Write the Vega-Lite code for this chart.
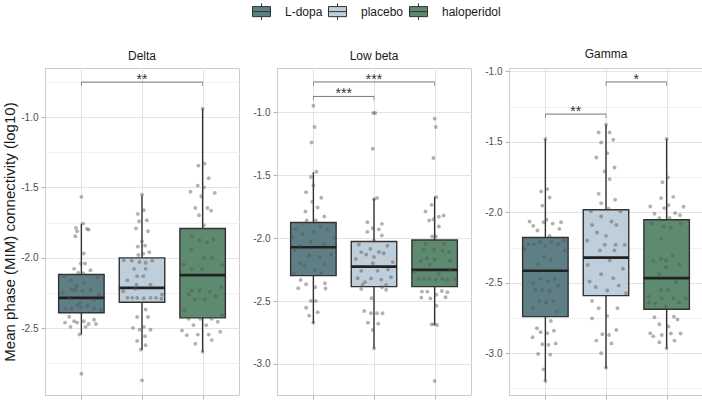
{
  "$schema": "https://vega.github.io/schema/vega-lite/v6.json",
  "padding": {"left": 2, "top": 2, "right": 0, "bottom": 0},
  "spacing": 12,
  "config": {
    "font": "Liberation Sans",
    "view": {"stroke": "#cccccc", "strokeWidth": 1},
    "title": {"fontSize": 12, "fontWeight": "normal", "color": "#1a1a1a", "offset": 5, "anchor": "middle"},
    "axisX": {"domain": false, "tickSize": 4, "tickColor": "#b3b3b3", "gridColor": "#e3e3e3", "labels": false},
    "axisY": {"domain": false, "tickSize": 4, "tickColor": "#b3b3b3", "labelFontSize": 10, "labelColor": "#4d4d4d", "labelPadding": 3, "labelOverlap": false, "titleFontSize": 15, "titleFontWeight": "normal", "titleColor": "#1a1a1a", "titlePadding": 3}
  },
  "datasets": {
    "boxes": [
      {"panel": "Delta", "drug": "L-dopa", "slot": 1, "lo": -2.544, "q1": -2.39, "med": -2.284, "q3": -2.118, "hi": -1.757},
      {"panel": "Delta", "drug": "placebo", "slot": 2, "lo": -2.655, "q1": -2.315, "med": -2.213, "q3": -2.0, "hi": -1.556},
      {"panel": "Delta", "drug": "haloperidol", "slot": 3, "lo": -2.667, "q1": -2.426, "med": -2.123, "q3": -1.792, "hi": -0.941},
      {"panel": "Low beta", "drug": "L-dopa", "slot": 1, "lo": -2.677, "q1": -2.298, "med": -2.072, "q3": -1.876, "hi": -1.475},
      {"panel": "Low beta", "drug": "placebo", "slot": 2, "lo": -2.876, "q1": -2.385, "med": -2.226, "q3": -2.027, "hi": -1.685},
      {"panel": "Low beta", "drug": "haloperidol", "slot": 3, "lo": -2.69, "q1": -2.385, "med": -2.252, "q3": -2.014, "hi": -1.669},
      {"panel": "Gamma", "drug": "L-dopa", "slot": 1, "lo": -3.197, "q1": -2.74, "med": -2.415, "q3": -2.179, "hi": -1.48},
      {"panel": "Gamma", "drug": "placebo", "slot": 2, "lo": -3.107, "q1": -2.591, "med": -2.321, "q3": -1.982, "hi": -1.379},
      {"panel": "Gamma", "drug": "haloperidol", "slot": 3, "lo": -2.965, "q1": -2.688, "med": -2.467, "q3": -2.053, "hi": -1.48}
    ],
    "sig": [
      {"panel": "Delta", "from": 1, "to": 3, "mid": 2, "y": -0.752, "label": "**"},
      {"panel": "Low beta", "from": 1, "to": 3, "mid": 2, "y": -0.758, "label": "***"},
      {"panel": "Low beta", "from": 1, "to": 2, "mid": 1.5, "y": -0.873, "label": "***"},
      {"panel": "Gamma", "from": 1, "to": 2, "mid": 1.5, "y": -1.303, "label": "**"},
      {"panel": "Gamma", "from": 2, "to": 3, "mid": 2.5, "y": -1.075, "label": "*"}
    ],
    "delta": [
      {"drug": "L-dopa", "v": -1.567, "slot": 1},
      {"drug": "L-dopa", "v": -1.757, "slot": 1.03},
      {"drug": "L-dopa", "v": -1.787, "slot": 0.91},
      {"drug": "L-dopa", "v": -1.811, "slot": 0.93},
      {"drug": "L-dopa", "v": -1.794, "slot": 1.09},
      {"drug": "L-dopa", "v": -1.847, "slot": 0.9},
      {"drug": "L-dopa", "v": -1.8, "slot": 1.12},
      {"drug": "L-dopa", "v": -1.969, "slot": 1.04},
      {"drug": "L-dopa", "v": -2.04, "slot": 0.99},
      {"drug": "L-dopa", "v": -2.04, "slot": 1.06},
      {"drug": "L-dopa", "v": -2.078, "slot": 0.88},
      {"drug": "L-dopa", "v": -2.088, "slot": 1.15},
      {"drug": "L-dopa", "v": -2.106, "slot": 0.95},
      {"drug": "L-dopa", "v": -2.11, "slot": 1.03},
      {"drug": "L-dopa", "v": -2.13, "slot": 0.72},
      {"drug": "L-dopa", "v": -2.14, "slot": 1.27},
      {"drug": "L-dopa", "v": -2.16, "slot": 0.82},
      {"drug": "L-dopa", "v": -2.18, "slot": 1.05},
      {"drug": "L-dopa", "v": -2.2, "slot": 0.92},
      {"drug": "L-dopa", "v": -2.225, "slot": 0.84},
      {"drug": "L-dopa", "v": -2.228, "slot": 0.9},
      {"drug": "L-dopa", "v": -2.235, "slot": 1.02},
      {"drug": "L-dopa", "v": -2.228, "slot": 1.15},
      {"drug": "L-dopa", "v": -2.248, "slot": 0.69},
      {"drug": "L-dopa", "v": -2.26, "slot": 1.29},
      {"drug": "L-dopa", "v": -2.29, "slot": 0.8},
      {"drug": "L-dopa", "v": -2.3, "slot": 1.2},
      {"drug": "L-dopa", "v": -2.32, "slot": 0.98},
      {"drug": "L-dopa", "v": -2.336, "slot": 0.93},
      {"drug": "L-dopa", "v": -2.34, "slot": 1.1},
      {"drug": "L-dopa", "v": -2.35, "slot": 0.99},
      {"drug": "L-dopa", "v": -2.36, "slot": 0.74},
      {"drug": "L-dopa", "v": -2.36, "slot": 0.84},
      {"drug": "L-dopa", "v": -2.36, "slot": 1.21},
      {"drug": "L-dopa", "v": -2.37, "slot": 1.32},
      {"drug": "L-dopa", "v": -2.418, "slot": 0.8},
      {"drug": "L-dopa", "v": -2.45, "slot": 0.88},
      {"drug": "L-dopa", "v": -2.46, "slot": 0.73},
      {"drug": "L-dopa", "v": -2.49, "slot": 0.82},
      {"drug": "L-dopa", "v": -2.46, "slot": 0.93},
      {"drug": "L-dopa", "v": -2.45, "slot": 1.04},
      {"drug": "L-dopa", "v": -2.47, "slot": 1.12},
      {"drug": "L-dopa", "v": -2.49, "slot": 1.07},
      {"drug": "L-dopa", "v": -2.44, "slot": 1.21},
      {"drug": "L-dopa", "v": -2.47, "slot": 1.24},
      {"drug": "L-dopa", "v": -2.544, "slot": 0.97},
      {"drug": "L-dopa", "v": -2.823, "slot": 1},
      {"drug": "placebo", "v": -1.551, "slot": 2},
      {"drug": "placebo", "v": -1.688, "slot": 1.93},
      {"drug": "placebo", "v": -1.662, "slot": 2.03},
      {"drug": "placebo", "v": -1.733, "slot": 2.08},
      {"drug": "placebo", "v": -1.74, "slot": 1.95},
      {"drug": "placebo", "v": -1.792, "slot": 1.9},
      {"drug": "placebo", "v": -1.811, "slot": 2.1},
      {"drug": "placebo", "v": -1.882, "slot": 2},
      {"drug": "placebo", "v": -1.913, "slot": 2.05},
      {"drug": "placebo", "v": -1.92, "slot": 1.93},
      {"drug": "placebo", "v": -1.96, "slot": 2.12},
      {"drug": "placebo", "v": -1.98, "slot": 1.94},
      {"drug": "placebo", "v": -1.97, "slot": 2.02},
      {"drug": "placebo", "v": -2.017, "slot": 1.7},
      {"drug": "placebo", "v": -2.02, "slot": 1.83},
      {"drug": "placebo", "v": -2.03, "slot": 1.96},
      {"drug": "placebo", "v": -2.035, "slot": 2.06},
      {"drug": "placebo", "v": -2.02, "slot": 2.17},
      {"drug": "placebo", "v": -2.078, "slot": 1.87},
      {"drug": "placebo", "v": -2.078, "slot": 2.06},
      {"drug": "placebo", "v": -2.13, "slot": 1.92},
      {"drug": "placebo", "v": -2.13, "slot": 2.02},
      {"drug": "placebo", "v": -2.16, "slot": 1.76},
      {"drug": "placebo", "v": -2.19, "slot": 1.91},
      {"drug": "placebo", "v": -2.19, "slot": 2.14},
      {"drug": "placebo", "v": -2.237, "slot": 1.69},
      {"drug": "placebo", "v": -2.22, "slot": 1.89},
      {"drug": "placebo", "v": -2.284, "slot": 1.76},
      {"drug": "placebo", "v": -2.284, "slot": 1.84},
      {"drug": "placebo", "v": -2.284, "slot": 1.92},
      {"drug": "placebo", "v": -2.287, "slot": 2.03},
      {"drug": "placebo", "v": -2.284, "slot": 2.14},
      {"drug": "placebo", "v": -2.284, "slot": 2.23},
      {"drug": "placebo", "v": -2.29, "slot": 2.32},
      {"drug": "placebo", "v": -2.26, "slot": 2.33},
      {"drug": "placebo", "v": -2.367, "slot": 2.06},
      {"drug": "placebo", "v": -2.42, "slot": 1.92},
      {"drug": "placebo", "v": -2.42, "slot": 2.1},
      {"drug": "placebo", "v": -2.497, "slot": 1.85},
      {"drug": "placebo", "v": -2.51, "slot": 1.96},
      {"drug": "placebo", "v": -2.49, "slot": 2.03},
      {"drug": "placebo", "v": -2.51, "slot": 2.14},
      {"drug": "placebo", "v": -2.556, "slot": 2.05},
      {"drug": "placebo", "v": -2.59, "slot": 1.92},
      {"drug": "placebo", "v": -2.62, "slot": 2.06},
      {"drug": "placebo", "v": -2.652, "slot": 1.98},
      {"drug": "placebo", "v": -2.87, "slot": 2},
      {"drug": "haloperidol", "v": -0.941, "slot": 3},
      {"drug": "haloperidol", "v": -1.345, "slot": 2.93},
      {"drug": "haloperidol", "v": -1.331, "slot": 3.03},
      {"drug": "haloperidol", "v": -1.435, "slot": 3.1},
      {"drug": "haloperidol", "v": -1.487, "slot": 2.92},
      {"drug": "haloperidol", "v": -1.5, "slot": 3.02},
      {"drug": "haloperidol", "v": -1.53, "slot": 2.8},
      {"drug": "haloperidol", "v": -1.539, "slot": 3.2},
      {"drug": "haloperidol", "v": -1.563, "slot": 2.98},
      {"drug": "haloperidol", "v": -1.646, "slot": 2.88},
      {"drug": "haloperidol", "v": -1.646, "slot": 3.08},
      {"drug": "haloperidol", "v": -1.665, "slot": 3.14},
      {"drug": "haloperidol", "v": -1.698, "slot": 2.94},
      {"drug": "haloperidol", "v": -1.769, "slot": 3.02},
      {"drug": "haloperidol", "v": -1.847, "slot": 2.82},
      {"drug": "haloperidol", "v": -1.875, "slot": 2.95},
      {"drug": "haloperidol", "v": -1.89, "slot": 3.07},
      {"drug": "haloperidol", "v": -1.87, "slot": 3.18},
      {"drug": "haloperidol", "v": -1.941, "slot": 2.81},
      {"drug": "haloperidol", "v": -2.0, "slot": 3.02},
      {"drug": "haloperidol", "v": -2.0, "slot": 3.15},
      {"drug": "haloperidol", "v": -2.047, "slot": 2.69},
      {"drug": "haloperidol", "v": -2.08, "slot": 2.82},
      {"drug": "haloperidol", "v": -2.08, "slot": 2.99},
      {"drug": "haloperidol", "v": -2.05, "slot": 3.32},
      {"drug": "haloperidol", "v": -2.232, "slot": 2.82},
      {"drug": "haloperidol", "v": -2.232, "slot": 2.95},
      {"drug": "haloperidol", "v": -2.24, "slot": 3.12},
      {"drug": "haloperidol", "v": -2.272, "slot": 3.21},
      {"drug": "haloperidol", "v": -2.26, "slot": 2.77},
      {"drug": "haloperidol", "v": -2.296, "slot": 2.87},
      {"drug": "haloperidol", "v": -2.296, "slot": 3.03},
      {"drug": "haloperidol", "v": -2.208, "slot": 3.31},
      {"drug": "haloperidol", "v": -2.374, "slot": 2.7},
      {"drug": "haloperidol", "v": -2.407, "slot": 3.32},
      {"drug": "haloperidol", "v": -2.433, "slot": 2.77},
      {"drug": "haloperidol", "v": -2.433, "slot": 2.96},
      {"drug": "haloperidol", "v": -2.433, "slot": 3.15},
      {"drug": "haloperidol", "v": -2.478, "slot": 2.85},
      {"drug": "haloperidol", "v": -2.478, "slot": 3.06},
      {"drug": "haloperidol", "v": -2.454, "slot": 3.25},
      {"drug": "haloperidol", "v": -2.516, "slot": 2.66},
      {"drug": "haloperidol", "v": -2.549, "slot": 2.74},
      {"drug": "haloperidol", "v": -2.545, "slot": 2.92},
      {"drug": "haloperidol", "v": -2.545, "slot": 3.1},
      {"drug": "haloperidol", "v": -2.525, "slot": 3.29},
      {"drug": "haloperidol", "v": -2.584, "slot": 3.15},
      {"drug": "haloperidol", "v": -2.61, "slot": 2.88},
      {"drug": "haloperidol", "v": -2.667, "slot": 3}
    ],
    "lowbeta": [
      {"drug": "L-dopa", "v": -0.947, "slot": 1},
      {"drug": "L-dopa", "v": -1.116, "slot": 1.02},
      {"drug": "L-dopa", "v": -1.239, "slot": 0.97},
      {"drug": "L-dopa", "v": -1.472, "slot": 1.05},
      {"drug": "L-dopa", "v": -1.514, "slot": 0.96},
      {"drug": "L-dopa", "v": -1.58, "slot": 1},
      {"drug": "L-dopa", "v": -1.634, "slot": 0.88},
      {"drug": "L-dopa", "v": -1.679, "slot": 1.13},
      {"drug": "L-dopa", "v": -1.711, "slot": 0.98},
      {"drug": "L-dopa", "v": -1.756, "slot": 1.07},
      {"drug": "L-dopa", "v": -1.788, "slot": 0.87},
      {"drug": "L-dopa", "v": -1.828, "slot": 1.18},
      {"drug": "L-dopa", "v": -1.86, "slot": 0.89},
      {"drug": "L-dopa", "v": -1.86, "slot": 1.04},
      {"drug": "L-dopa", "v": -1.928, "slot": 0.71},
      {"drug": "L-dopa", "v": -1.966, "slot": 0.82},
      {"drug": "L-dopa", "v": -1.95, "slot": 1},
      {"drug": "L-dopa", "v": -1.908, "slot": 1.12},
      {"drug": "L-dopa", "v": -1.93, "slot": 1.23},
      {"drug": "L-dopa", "v": -1.995, "slot": 0.65},
      {"drug": "L-dopa", "v": -1.995, "slot": 1.35},
      {"drug": "L-dopa", "v": -2.027, "slot": 0.96},
      {"drug": "L-dopa", "v": -2.05, "slot": 1.17},
      {"drug": "L-dopa", "v": -2.059, "slot": 0.77},
      {"drug": "L-dopa", "v": -2.093, "slot": 0.69},
      {"drug": "L-dopa", "v": -2.199, "slot": 0.78},
      {"drug": "L-dopa", "v": -2.22, "slot": 0.85},
      {"drug": "L-dopa", "v": -2.138, "slot": 0.93},
      {"drug": "L-dopa", "v": -2.15, "slot": 1.1},
      {"drug": "L-dopa", "v": -2.252, "slot": 1.02},
      {"drug": "L-dopa", "v": -2.207, "slot": 1.18},
      {"drug": "L-dopa", "v": -2.13, "slot": 1.29},
      {"drug": "L-dopa", "v": -2.279, "slot": 0.68},
      {"drug": "L-dopa", "v": -2.279, "slot": 1.13},
      {"drug": "L-dopa", "v": -2.332, "slot": 0.79},
      {"drug": "L-dopa", "v": -2.366, "slot": 0.88},
      {"drug": "L-dopa", "v": -2.398, "slot": 0.75},
      {"drug": "L-dopa", "v": -2.39, "slot": 1.03},
      {"drug": "L-dopa", "v": -2.358, "slot": 1.19},
      {"drug": "L-dopa", "v": -2.4, "slot": 1.2},
      {"drug": "L-dopa", "v": -2.499, "slot": 0.96},
      {"drug": "L-dopa", "v": -2.499, "slot": 1.04},
      {"drug": "L-dopa", "v": -2.553, "slot": 0.88},
      {"drug": "L-dopa", "v": -2.589, "slot": 1.07},
      {"drug": "L-dopa", "v": -2.616, "slot": 0.93},
      {"drug": "L-dopa", "v": -2.672, "slot": 1},
      {"drug": "placebo", "v": -1.005, "slot": 1.99},
      {"drug": "placebo", "v": -1.005, "slot": 2.02},
      {"drug": "placebo", "v": -1.289, "slot": 1.98},
      {"drug": "placebo", "v": -1.69, "slot": 2},
      {"drug": "placebo", "v": -1.68, "slot": 2.05},
      {"drug": "placebo", "v": -1.873, "slot": 1.89},
      {"drug": "placebo", "v": -1.886, "slot": 2.13},
      {"drug": "placebo", "v": -1.921, "slot": 1.98},
      {"drug": "placebo", "v": -1.93, "slot": 2.08},
      {"drug": "placebo", "v": -1.95, "slot": 1.89},
      {"drug": "placebo", "v": -1.979, "slot": 2.13},
      {"drug": "placebo", "v": -2.02, "slot": 2},
      {"drug": "placebo", "v": -2.165, "slot": 1.7},
      {"drug": "placebo", "v": -2.111, "slot": 1.79},
      {"drug": "placebo", "v": -2.13, "slot": 1.87},
      {"drug": "placebo", "v": -2.085, "slot": 1.94},
      {"drug": "placebo", "v": -2.11, "slot": 2.08},
      {"drug": "placebo", "v": -2.12, "slot": 2.16},
      {"drug": "placebo", "v": -2.15, "slot": 2},
      {"drug": "placebo", "v": -2.199, "slot": 1.98},
      {"drug": "placebo", "v": -2.19, "slot": 2.31},
      {"drug": "placebo", "v": -2.319, "slot": 1.73},
      {"drug": "placebo", "v": -2.35, "slot": 1.85},
      {"drug": "placebo", "v": -2.32, "slot": 1.95},
      {"drug": "placebo", "v": -2.33, "slot": 2.12},
      {"drug": "placebo", "v": -2.31, "slot": 2.28},
      {"drug": "placebo", "v": -2.26, "slot": 2.06},
      {"drug": "placebo", "v": -2.26, "slot": 1.79},
      {"drug": "placebo", "v": -2.25, "slot": 2.23},
      {"drug": "placebo", "v": -2.372, "slot": 2.2},
      {"drug": "placebo", "v": -2.372, "slot": 1.81},
      {"drug": "placebo", "v": -2.05, "slot": 1.75},
      {"drug": "placebo", "v": -2.06, "slot": 2.22},
      {"drug": "placebo", "v": -2.404, "slot": 1.79},
      {"drug": "placebo", "v": -2.39, "slot": 2.13},
      {"drug": "placebo", "v": -2.41, "slot": 2.2},
      {"drug": "placebo", "v": -2.478, "slot": 1.96},
      {"drug": "placebo", "v": -2.579, "slot": 1.84},
      {"drug": "placebo", "v": -2.597, "slot": 1.95},
      {"drug": "placebo", "v": -2.597, "slot": 2.05},
      {"drug": "placebo", "v": -2.597, "slot": 2.14},
      {"drug": "placebo", "v": -2.672, "slot": 1.9},
      {"drug": "placebo", "v": -2.68, "slot": 2.07},
      {"drug": "placebo", "v": -2.73, "slot": 1.98},
      {"drug": "placebo", "v": -2.876, "slot": 2},
      {"drug": "haloperidol", "v": -1.05, "slot": 3},
      {"drug": "haloperidol", "v": -1.116, "slot": 3.02},
      {"drug": "haloperidol", "v": -1.363, "slot": 2.98},
      {"drug": "haloperidol", "v": -1.674, "slot": 3.03},
      {"drug": "haloperidol", "v": -1.735, "slot": 2.95},
      {"drug": "haloperidol", "v": -1.788, "slot": 2.85},
      {"drug": "haloperidol", "v": -1.82, "slot": 3.15},
      {"drug": "haloperidol", "v": -1.83, "slot": 3.07},
      {"drug": "haloperidol", "v": -1.86, "slot": 2.91},
      {"drug": "haloperidol", "v": -1.85, "slot": 2.98},
      {"drug": "haloperidol", "v": -1.907, "slot": 3.07},
      {"drug": "haloperidol", "v": -1.987, "slot": 2.96},
      {"drug": "haloperidol", "v": -1.987, "slot": 3.02},
      {"drug": "haloperidol", "v": -2.045, "slot": 2.85},
      {"drug": "haloperidol", "v": -2.045, "slot": 3.15},
      {"drug": "haloperidol", "v": -2.093, "slot": 2.82},
      {"drug": "haloperidol", "v": -2.09, "slot": 2.99},
      {"drug": "haloperidol", "v": -2.1, "slot": 3.13},
      {"drug": "haloperidol", "v": -2.11, "slot": 3.24},
      {"drug": "haloperidol", "v": -2.181, "slot": 2.77},
      {"drug": "haloperidol", "v": -2.16, "slot": 2.87},
      {"drug": "haloperidol", "v": -2.17, "slot": 3},
      {"drug": "haloperidol", "v": -2.18, "slot": 3.25},
      {"drug": "haloperidol", "v": -2.21, "slot": 2.92},
      {"drug": "haloperidol", "v": -2.266, "slot": 2.67},
      {"drug": "haloperidol", "v": -2.26, "slot": 3.26},
      {"drug": "haloperidol", "v": -2.324, "slot": 2.74},
      {"drug": "haloperidol", "v": -2.324, "slot": 2.82},
      {"drug": "haloperidol", "v": -2.324, "slot": 2.91},
      {"drug": "haloperidol", "v": -2.33, "slot": 3.02},
      {"drug": "haloperidol", "v": -2.324, "slot": 3.13},
      {"drug": "haloperidol", "v": -2.33, "slot": 3.21},
      {"drug": "haloperidol", "v": -2.324, "slot": 3.34},
      {"drug": "haloperidol", "v": -2.28, "slot": 3.07},
      {"drug": "haloperidol", "v": -2.425, "slot": 2.79},
      {"drug": "haloperidol", "v": -2.425, "slot": 2.88},
      {"drug": "haloperidol", "v": -2.42, "slot": 3.12},
      {"drug": "haloperidol", "v": -2.43, "slot": 3.21},
      {"drug": "haloperidol", "v": -2.473, "slot": 2.78},
      {"drug": "haloperidol", "v": -2.48, "slot": 2.93},
      {"drug": "haloperidol", "v": -2.45, "slot": 3.03},
      {"drug": "haloperidol", "v": -2.47, "slot": 3.18},
      {"drug": "haloperidol", "v": -2.537, "slot": 3.03},
      {"drug": "haloperidol", "v": -2.685, "slot": 2.95},
      {"drug": "haloperidol", "v": -2.685, "slot": 2.99},
      {"drug": "haloperidol", "v": -2.69, "slot": 3.04},
      {"drug": "haloperidol", "v": -3.136, "slot": 3}
    ],
    "gamma": [
      {"drug": "L-dopa", "v": -1.48, "slot": 1},
      {"drug": "L-dopa", "v": -1.852, "slot": 0.93},
      {"drug": "L-dopa", "v": -1.835, "slot": 1.03},
      {"drug": "L-dopa", "v": -1.895, "slot": 1.07},
      {"drug": "L-dopa", "v": -1.952, "slot": 0.95},
      {"drug": "L-dopa", "v": -2.065, "slot": 0.74},
      {"drug": "L-dopa", "v": -2.096, "slot": 0.8},
      {"drug": "L-dopa", "v": -2.129, "slot": 0.87},
      {"drug": "L-dopa", "v": -2.053, "slot": 1.02},
      {"drug": "L-dopa", "v": -2.07, "slot": 0.97},
      {"drug": "L-dopa", "v": -2.08, "slot": 1.12},
      {"drug": "L-dopa", "v": -2.07, "slot": 1.26},
      {"drug": "L-dopa", "v": -2.117, "slot": 1.23},
      {"drug": "L-dopa", "v": -2.167, "slot": 1.07},
      {"drug": "L-dopa", "v": -2.226, "slot": 0.72},
      {"drug": "L-dopa", "v": -2.226, "slot": 0.81},
      {"drug": "L-dopa", "v": -2.21, "slot": 0.91},
      {"drug": "L-dopa", "v": -2.24, "slot": 1},
      {"drug": "L-dopa", "v": -2.21, "slot": 1.1},
      {"drug": "L-dopa", "v": -2.226, "slot": 1.21},
      {"drug": "L-dopa", "v": -2.2, "slot": 1.31},
      {"drug": "L-dopa", "v": -2.259, "slot": 0.66},
      {"drug": "L-dopa", "v": -2.314, "slot": 0.98},
      {"drug": "L-dopa", "v": -2.368, "slot": 0.88},
      {"drug": "L-dopa", "v": -2.34, "slot": 1.09},
      {"drug": "L-dopa", "v": -2.27, "slot": 1.32},
      {"drug": "L-dopa", "v": -2.503, "slot": 0.8},
      {"drug": "L-dopa", "v": -2.472, "slot": 0.92},
      {"drug": "L-dopa", "v": -2.49, "slot": 1.05},
      {"drug": "L-dopa", "v": -2.472, "slot": 1.16},
      {"drug": "L-dopa", "v": -2.52, "slot": 1.21},
      {"drug": "L-dopa", "v": -2.55, "slot": 0.83},
      {"drug": "L-dopa", "v": -2.55, "slot": 0.95},
      {"drug": "L-dopa", "v": -2.56, "slot": 1.07},
      {"drug": "L-dopa", "v": -2.629, "slot": 0.9},
      {"drug": "L-dopa", "v": -2.64, "slot": 1.01},
      {"drug": "L-dopa", "v": -2.629, "slot": 1.13},
      {"drug": "L-dopa", "v": -2.68, "slot": 0.79},
      {"drug": "L-dopa", "v": -2.705, "slot": 1.19},
      {"drug": "L-dopa", "v": -2.822, "slot": 0.86},
      {"drug": "L-dopa", "v": -2.85, "slot": 0.92},
      {"drug": "L-dopa", "v": -2.771, "slot": 1.09},
      {"drug": "L-dopa", "v": -2.858, "slot": 1.03},
      {"drug": "L-dopa", "v": -2.84, "slot": 1.14},
      {"drug": "L-dopa", "v": -2.886, "slot": 0.79},
      {"drug": "L-dopa", "v": -2.936, "slot": 0.95},
      {"drug": "L-dopa", "v": -2.94, "slot": 1.05},
      {"drug": "L-dopa", "v": -2.93, "slot": 1.17},
      {"drug": "L-dopa", "v": -3.005, "slot": 0.88},
      {"drug": "L-dopa", "v": -3.01, "slot": 1.08},
      {"drug": "L-dopa", "v": -3.114, "slot": 0.97},
      {"drug": "L-dopa", "v": -3.197, "slot": 1},
      {"drug": "placebo", "v": -1.379, "slot": 2},
      {"drug": "placebo", "v": -1.433, "slot": 1.88},
      {"drug": "placebo", "v": -1.433, "slot": 2.06},
      {"drug": "placebo", "v": -1.504, "slot": 1.92},
      {"drug": "placebo", "v": -1.485, "slot": 2.12},
      {"drug": "placebo", "v": -1.58, "slot": 2.02},
      {"drug": "placebo", "v": -1.611, "slot": 1.84},
      {"drug": "placebo", "v": -1.682, "slot": 2.14},
      {"drug": "placebo", "v": -1.71, "slot": 1.98},
      {"drug": "placebo", "v": -1.764, "slot": 2.06},
      {"drug": "placebo", "v": -1.869, "slot": 1.88},
      {"drug": "placebo", "v": -1.911, "slot": 2.15},
      {"drug": "placebo", "v": -1.935, "slot": 1.92},
      {"drug": "placebo", "v": -1.975, "slot": 2.04},
      {"drug": "placebo", "v": -1.992, "slot": 1.75},
      {"drug": "placebo", "v": -1.992, "slot": 2.24},
      {"drug": "placebo", "v": -2.03, "slot": 1.92},
      {"drug": "placebo", "v": -2.065, "slot": 2.09},
      {"drug": "placebo", "v": -2.09, "slot": 2.17},
      {"drug": "placebo", "v": -2.09, "slot": 1.77},
      {"drug": "placebo", "v": -2.143, "slot": 1.85},
      {"drug": "placebo", "v": -2.167, "slot": 2},
      {"drug": "placebo", "v": -2.2, "slot": 1.69},
      {"drug": "placebo", "v": -2.23, "slot": 2.31},
      {"drug": "placebo", "v": -2.23, "slot": 1.98},
      {"drug": "placebo", "v": -2.23, "slot": 2.16},
      {"drug": "placebo", "v": -2.373, "slot": 1.7},
      {"drug": "placebo", "v": -2.439, "slot": 1.92},
      {"drug": "placebo", "v": -2.467, "slot": 2.12},
      {"drug": "placebo", "v": -2.4, "slot": 2.28},
      {"drug": "placebo", "v": -2.491, "slot": 1.73},
      {"drug": "placebo", "v": -2.53, "slot": 1.83},
      {"drug": "placebo", "v": -2.555, "slot": 2.02},
      {"drug": "placebo", "v": -2.52, "slot": 2.21},
      {"drug": "placebo", "v": -2.574, "slot": 2.33},
      {"drug": "placebo", "v": -2.27, "slot": 1.9},
      {"drug": "placebo", "v": -2.27, "slot": 2.14},
      {"drug": "placebo", "v": -2.34, "slot": 2.06},
      {"drug": "placebo", "v": -2.629, "slot": 1.77},
      {"drug": "placebo", "v": -2.68, "slot": 1.88},
      {"drug": "placebo", "v": -2.68, "slot": 2.19},
      {"drug": "placebo", "v": -2.735, "slot": 2.02},
      {"drug": "placebo", "v": -2.752, "slot": 1.77},
      {"drug": "placebo", "v": -2.834, "slot": 2.17},
      {"drug": "placebo", "v": -2.865, "slot": 1.94},
      {"drug": "placebo", "v": -2.87, "slot": 2.05},
      {"drug": "placebo", "v": -2.91, "slot": 1.84},
      {"drug": "placebo", "v": -2.93, "slot": 2.09},
      {"drug": "placebo", "v": -3.0, "slot": 1.92},
      {"drug": "placebo", "v": -3.102, "slot": 2},
      {"drug": "haloperidol", "v": -1.48, "slot": 3},
      {"drug": "haloperidol", "v": -1.753, "slot": 3.02},
      {"drug": "haloperidol", "v": -1.786, "slot": 2.93},
      {"drug": "haloperidol", "v": -1.899, "slot": 2.91},
      {"drug": "haloperidol", "v": -1.89, "slot": 3.11},
      {"drug": "haloperidol", "v": -1.959, "slot": 2.73},
      {"drug": "haloperidol", "v": -1.97, "slot": 2.96},
      {"drug": "haloperidol", "v": -1.95, "slot": 3.03},
      {"drug": "haloperidol", "v": -1.96, "slot": 3.28},
      {"drug": "haloperidol", "v": -2.006, "slot": 3.14},
      {"drug": "haloperidol", "v": -2.01, "slot": 2.8},
      {"drug": "haloperidol", "v": -2.02, "slot": 3.22},
      {"drug": "haloperidol", "v": -2.041, "slot": 2.88},
      {"drug": "haloperidol", "v": -2.04, "slot": 3.05},
      {"drug": "haloperidol", "v": -2.077, "slot": 2.75},
      {"drug": "haloperidol", "v": -2.1, "slot": 2.95},
      {"drug": "haloperidol", "v": -2.11, "slot": 3.07},
      {"drug": "haloperidol", "v": -2.08, "slot": 3.23},
      {"drug": "haloperidol", "v": -2.188, "slot": 2.91},
      {"drug": "haloperidol", "v": -2.344, "slot": 2.78},
      {"drug": "haloperidol", "v": -2.33, "slot": 2.91},
      {"drug": "haloperidol", "v": -2.34, "slot": 2.99},
      {"drug": "haloperidol", "v": -2.307, "slot": 3.1},
      {"drug": "haloperidol", "v": -2.37, "slot": 3.21},
      {"drug": "haloperidol", "v": -2.39, "slot": 2.99},
      {"drug": "haloperidol", "v": -2.439, "slot": 2.88},
      {"drug": "haloperidol", "v": -2.496, "slot": 3.15},
      {"drug": "haloperidol", "v": -2.55, "slot": 2.91},
      {"drug": "haloperidol", "v": -2.55, "slot": 3.03},
      {"drug": "haloperidol", "v": -2.598, "slot": 2.7},
      {"drug": "haloperidol", "v": -2.61, "slot": 2.92},
      {"drug": "haloperidol", "v": -2.61, "slot": 3.11},
      {"drug": "haloperidol", "v": -2.64, "slot": 3.21},
      {"drug": "haloperidol", "v": -2.61, "slot": 3.31},
      {"drug": "haloperidol", "v": -2.64, "slot": 2.71},
      {"drug": "haloperidol", "v": -2.645, "slot": 2.81},
      {"drug": "haloperidol", "v": -2.67, "slot": 2.99},
      {"drug": "haloperidol", "v": -2.744, "slot": 2.8},
      {"drug": "haloperidol", "v": -2.74, "slot": 3.12},
      {"drug": "haloperidol", "v": -2.76, "slot": 3.18},
      {"drug": "haloperidol", "v": -2.794, "slot": 2.88},
      {"drug": "haloperidol", "v": -2.81, "slot": 3.03},
      {"drug": "haloperidol", "v": -2.858, "slot": 2.73},
      {"drug": "haloperidol", "v": -2.88, "slot": 2.78},
      {"drug": "haloperidol", "v": -2.87, "slot": 2.92},
      {"drug": "haloperidol", "v": -2.86, "slot": 3.07},
      {"drug": "haloperidol", "v": -2.86, "slot": 3.23},
      {"drug": "haloperidol", "v": -2.922, "slot": 2.88},
      {"drug": "haloperidol", "v": -2.91, "slot": 3.13},
      {"drug": "haloperidol", "v": -2.965, "slot": 3}
    ]
  },
  "hconcat": [
    {
      "width": 194, "height": 327,
      "title": "Delta",
      "layer": [
        {
          "data": {"name": "boxes"},
          "transform": [{"filter": "datum.panel === 'Delta'"}],
          "mark": {"type": "rule", "color": "#333333", "strokeWidth": 1.4},
          "encoding": {
            "x": {"field": "slot", "type": "quantitative", "title": null,
                  "scale": {"domain": [0.4, 3.6], "nice": false, "zero": false, "padding": 0},
                  "axis": {"values": [1, 2, 3]}},
            "y": {"field": "lo", "type": "quantitative", "title": "Mean phase (MIM) connectivity (log10)",
                  "scale": {"domain": [-2.974, -0.652], "nice": false, "zero": false},
                  "axis": {"values": [-2.75, -2.5, -2.25, -2, -1.75, -1.5, -1.25, -1, -0.75],
                           "labelExpr": "datum.value % 0.5 === 0 ? replace(format(datum.value, '.1f'), '\u2212', '-') : ''",
                           "gridColor": {"condition": {"test": "datum.value % 0.5 !== 0", "value": "#f0f0f0"}, "value": "#e3e3e3"},
                           "tickOpacity": {"condition": {"test": "datum.value % 0.5 !== 0", "value": 0}, "value": 1}}},
            "y2": {"field": "hi"}
          }
        },
        {
          "data": {"name": "boxes"},
          "transform": [{"filter": "datum.panel === 'Delta'"}],
          "mark": {"type": "bar", "width": 45.5, "stroke": "#333333", "strokeWidth": 1.4},
          "encoding": {
            "x": {"field": "slot", "type": "quantitative", "title": null},
            "y": {"field": "q1", "type": "quantitative", "title": "Mean phase (MIM) connectivity (log10)"},
            "y2": {"field": "q3"},
            "fill": {"field": "drug", "type": "nominal",
                     "scale": {"domain": ["L-dopa", "placebo", "haloperidol"], "range": ["#5f7f87", "#bfcedb", "#5e8a6f"]},
                     "legend": {"title": null, "orient": "none", "legendX": 207, "legendY": -66, "direction": "horizontal",
                                "symbolType": "M-1,-0.56H1V0.56H-1Z M-1,0H1 M0,-0.56V-0.92 M0,0.56V0.92",
                                "symbolSize": 324, "symbolStrokeColor": "#333333", "symbolStrokeWidth": 1,
                                "labelFontSize": 12, "labelColor": "#1a1a1a", "labelOffset": 14, "columnPadding": 3, "padding": 0}}
          }
        },
        {
          "data": {"name": "boxes"},
          "transform": [{"filter": "datum.panel === 'Delta'"}],
          "mark": {"type": "tick", "orient": "horizontal", "color": "#222222", "thickness": 2.6, "size": 46, "opacity": 1},
          "encoding": {
            "x": {"field": "slot", "type": "quantitative", "title": null},
            "y": {"field": "med", "type": "quantitative", "title": "Mean phase (MIM) connectivity (log10)"}
          }
        },
        {
          "data": {"name": "delta"},
          "mark": {"type": "circle", "size": 15, "color": "#555555", "opacity": 0.45},
          "encoding": {
            "x": {"field": "slot", "type": "quantitative", "title": null},
            "y": {"field": "v", "type": "quantitative", "title": "Mean phase (MIM) connectivity (log10)"}
          }
        },
        {
          "data": {"name": "sig"},
          "transform": [{"filter": "datum.panel === 'Delta'"}],
          "mark": {"type": "rule", "color": "#555555", "strokeWidth": 0.8},
          "encoding": {
            "x": {"field": "from", "type": "quantitative", "title": null},
            "x2": {"field": "to"},
            "y": {"field": "y", "type": "quantitative", "title": "Mean phase (MIM) connectivity (log10)"}
          }
        },
        {
          "data": {"name": "sig"},
          "transform": [{"filter": "datum.panel === 'Delta'"}],
          "mark": {"type": "tick", "orient": "vertical", "color": "#555555", "thickness": 0.8, "size": 4, "yOffset": 2},
          "encoding": {
            "x": {"field": "from", "type": "quantitative", "title": null},
            "y": {"field": "y", "type": "quantitative", "title": "Mean phase (MIM) connectivity (log10)"}
          }
        },
        {
          "data": {"name": "sig"},
          "transform": [{"filter": "datum.panel === 'Delta'"}],
          "mark": {"type": "tick", "orient": "vertical", "color": "#555555", "thickness": 0.8, "size": 4, "yOffset": 2},
          "encoding": {
            "x": {"field": "to", "type": "quantitative", "title": null},
            "y": {"field": "y", "type": "quantitative", "title": "Mean phase (MIM) connectivity (log10)"}
          }
        },
        {
          "data": {"name": "sig"},
          "transform": [{"filter": "datum.panel === 'Delta'"}],
          "mark": {"type": "text", "fontSize": 14, "color": "#333333", "baseline": "alphabetic", "dy": 2},
          "encoding": {
            "x": {"field": "mid", "type": "quantitative", "title": null},
            "y": {"field": "y", "type": "quantitative", "title": "Mean phase (MIM) connectivity (log10)"},
            "text": {"field": "label"}
          }
        }
      ]
    },
    {
      "width": 194, "height": 327,
      "title": "Low beta",
      "layer": [
        {
          "data": {"name": "boxes"},
          "transform": [{"filter": "datum.panel === 'Low beta'"}],
          "mark": {"type": "rule", "color": "#333333", "strokeWidth": 1.4},
          "encoding": {
            "x": {"field": "slot", "type": "quantitative", "title": null,
                  "scale": {"domain": [0.4, 3.6], "nice": false, "zero": false, "padding": 0},
                  "axis": {"values": [1, 2, 3]}},
            "y": {"field": "lo", "type": "quantitative", "title": null,
                  "scale": {"domain": [-3.247, -0.647], "nice": false, "zero": false},
                  "axis": {"values": [-3, -2.75, -2.5, -2.25, -2, -1.75, -1.5, -1.25, -1, -0.75],
                           "labelExpr": "datum.value % 0.5 === 0 ? replace(format(datum.value, '.1f'), '\u2212', '-') : ''",
                           "gridColor": {"condition": {"test": "datum.value % 0.5 !== 0", "value": "#f0f0f0"}, "value": "#e3e3e3"},
                           "tickOpacity": {"condition": {"test": "datum.value % 0.5 !== 0", "value": 0}, "value": 1}}},
            "y2": {"field": "hi"}
          }
        },
        {
          "data": {"name": "boxes"},
          "transform": [{"filter": "datum.panel === 'Low beta'"}],
          "mark": {"type": "bar", "width": 45.5, "stroke": "#333333", "strokeWidth": 1.4},
          "encoding": {
            "x": {"field": "slot", "type": "quantitative", "title": null},
            "y": {"field": "q1", "type": "quantitative", "title": null},
            "y2": {"field": "q3"},
            "fill": {"field": "drug", "type": "nominal"}
          }
        },
        {
          "data": {"name": "boxes"},
          "transform": [{"filter": "datum.panel === 'Low beta'"}],
          "mark": {"type": "tick", "orient": "horizontal", "color": "#222222", "thickness": 2.6, "size": 46, "opacity": 1},
          "encoding": {
            "x": {"field": "slot", "type": "quantitative", "title": null},
            "y": {"field": "med", "type": "quantitative", "title": null}
          }
        },
        {
          "data": {"name": "lowbeta"},
          "mark": {"type": "circle", "size": 15, "color": "#555555", "opacity": 0.45},
          "encoding": {
            "x": {"field": "slot", "type": "quantitative", "title": null},
            "y": {"field": "v", "type": "quantitative", "title": null}
          }
        },
        {
          "data": {"name": "sig"},
          "transform": [{"filter": "datum.panel === 'Low beta'"}],
          "mark": {"type": "rule", "color": "#555555", "strokeWidth": 0.8},
          "encoding": {
            "x": {"field": "from", "type": "quantitative", "title": null},
            "x2": {"field": "to"},
            "y": {"field": "y", "type": "quantitative", "title": null}
          }
        },
        {
          "data": {"name": "sig"},
          "transform": [{"filter": "datum.panel === 'Low beta'"}],
          "mark": {"type": "tick", "orient": "vertical", "color": "#555555", "thickness": 0.8, "size": 4, "yOffset": 2},
          "encoding": {
            "x": {"field": "from", "type": "quantitative", "title": null},
            "y": {"field": "y", "type": "quantitative", "title": null}
          }
        },
        {
          "data": {"name": "sig"},
          "transform": [{"filter": "datum.panel === 'Low beta'"}],
          "mark": {"type": "tick", "orient": "vertical", "color": "#555555", "thickness": 0.8, "size": 4, "yOffset": 2},
          "encoding": {
            "x": {"field": "to", "type": "quantitative", "title": null},
            "y": {"field": "y", "type": "quantitative", "title": null}
          }
        },
        {
          "data": {"name": "sig"},
          "transform": [{"filter": "datum.panel === 'Low beta'"}],
          "mark": {"type": "text", "fontSize": 14, "color": "#333333", "baseline": "alphabetic", "dy": 2},
          "encoding": {
            "x": {"field": "mid", "type": "quantitative", "title": null},
            "y": {"field": "y", "type": "quantitative", "title": null},
            "text": {"field": "label"}
          }
        }
      ]
    },
    {
      "width": 194, "height": 327,
      "title": "Gamma",
      "layer": [
        {
          "data": {"name": "boxes"},
          "transform": [{"filter": "datum.panel === 'Gamma'"}],
          "mark": {"type": "rule", "color": "#333333", "strokeWidth": 1.4},
          "encoding": {
            "x": {"field": "slot", "type": "quantitative", "title": null,
                  "scale": {"domain": [0.4, 3.6], "nice": false, "zero": false, "padding": 0},
                  "axis": {"values": [1, 2, 3]}},
            "y": {"field": "lo", "type": "quantitative", "title": null,
                  "scale": {"domain": [-3.296, -0.976], "nice": false, "zero": false},
                  "axis": {"orient": "left", "values": [-3, -2.75, -2.5, -2.25, -2, -1.75, -1.5, -1.25, -1],
                           "labelExpr": "datum.value % 0.5 === 0 ? replace(format(datum.value, '.1f'), '\u2212', '-') : ''",
                           "gridColor": {"condition": {"test": "datum.value % 0.5 !== 0", "value": "#f0f0f0"}, "value": "#e3e3e3"},
                           "tickOpacity": {"condition": {"test": "datum.value % 0.5 !== 0", "value": 0}, "value": 1}}},
            "y2": {"field": "hi"}
          }
        },
        {
          "data": {"values": [{}]},
          "mark": {"type": "rule", "color": "#f0f0f0", "strokeWidth": 1},
          "encoding": {
            "y": {"datum": -3.25, "type": "quantitative"}
          }
        },
        {
          "data": {"name": "boxes"},
          "transform": [{"filter": "datum.panel === 'Gamma'"}],
          "mark": {"type": "bar", "width": 45.5, "stroke": "#333333", "strokeWidth": 1.4},
          "encoding": {
            "x": {"field": "slot", "type": "quantitative", "title": null},
            "y": {"field": "q1", "type": "quantitative", "title": null},
            "y2": {"field": "q3"},
            "fill": {"field": "drug", "type": "nominal"}
          }
        },
        {
          "data": {"name": "boxes"},
          "transform": [{"filter": "datum.panel === 'Gamma'"}],
          "mark": {"type": "tick", "orient": "horizontal", "color": "#222222", "thickness": 2.6, "size": 46, "opacity": 1},
          "encoding": {
            "x": {"field": "slot", "type": "quantitative", "title": null},
            "y": {"field": "med", "type": "quantitative", "title": null}
          }
        },
        {
          "data": {"name": "gamma"},
          "mark": {"type": "circle", "size": 15, "color": "#555555", "opacity": 0.45},
          "encoding": {
            "x": {"field": "slot", "type": "quantitative", "title": null},
            "y": {"field": "v", "type": "quantitative", "title": null}
          }
        },
        {
          "data": {"name": "sig"},
          "transform": [{"filter": "datum.panel === 'Gamma'"}],
          "mark": {"type": "rule", "color": "#555555", "strokeWidth": 0.8},
          "encoding": {
            "x": {"field": "from", "type": "quantitative", "title": null},
            "x2": {"field": "to"},
            "y": {"field": "y", "type": "quantitative", "title": null}
          }
        },
        {
          "data": {"name": "sig"},
          "transform": [{"filter": "datum.panel === 'Gamma'"}],
          "mark": {"type": "tick", "orient": "vertical", "color": "#555555", "thickness": 0.8, "size": 4, "yOffset": 2},
          "encoding": {
            "x": {"field": "from", "type": "quantitative", "title": null},
            "y": {"field": "y", "type": "quantitative", "title": null}
          }
        },
        {
          "data": {"name": "sig"},
          "transform": [{"filter": "datum.panel === 'Gamma'"}],
          "mark": {"type": "tick", "orient": "vertical", "color": "#555555", "thickness": 0.8, "size": 4, "yOffset": 2},
          "encoding": {
            "x": {"field": "to", "type": "quantitative", "title": null},
            "y": {"field": "y", "type": "quantitative", "title": null}
          }
        },
        {
          "data": {"name": "sig"},
          "transform": [{"filter": "datum.panel === 'Gamma'"}],
          "mark": {"type": "text", "fontSize": 14, "color": "#333333", "baseline": "alphabetic", "dy": 2},
          "encoding": {
            "x": {"field": "mid", "type": "quantitative", "title": null},
            "y": {"field": "y", "type": "quantitative", "title": null},
            "text": {"field": "label"}
          }
        }
      ]
    }
  ]
}
